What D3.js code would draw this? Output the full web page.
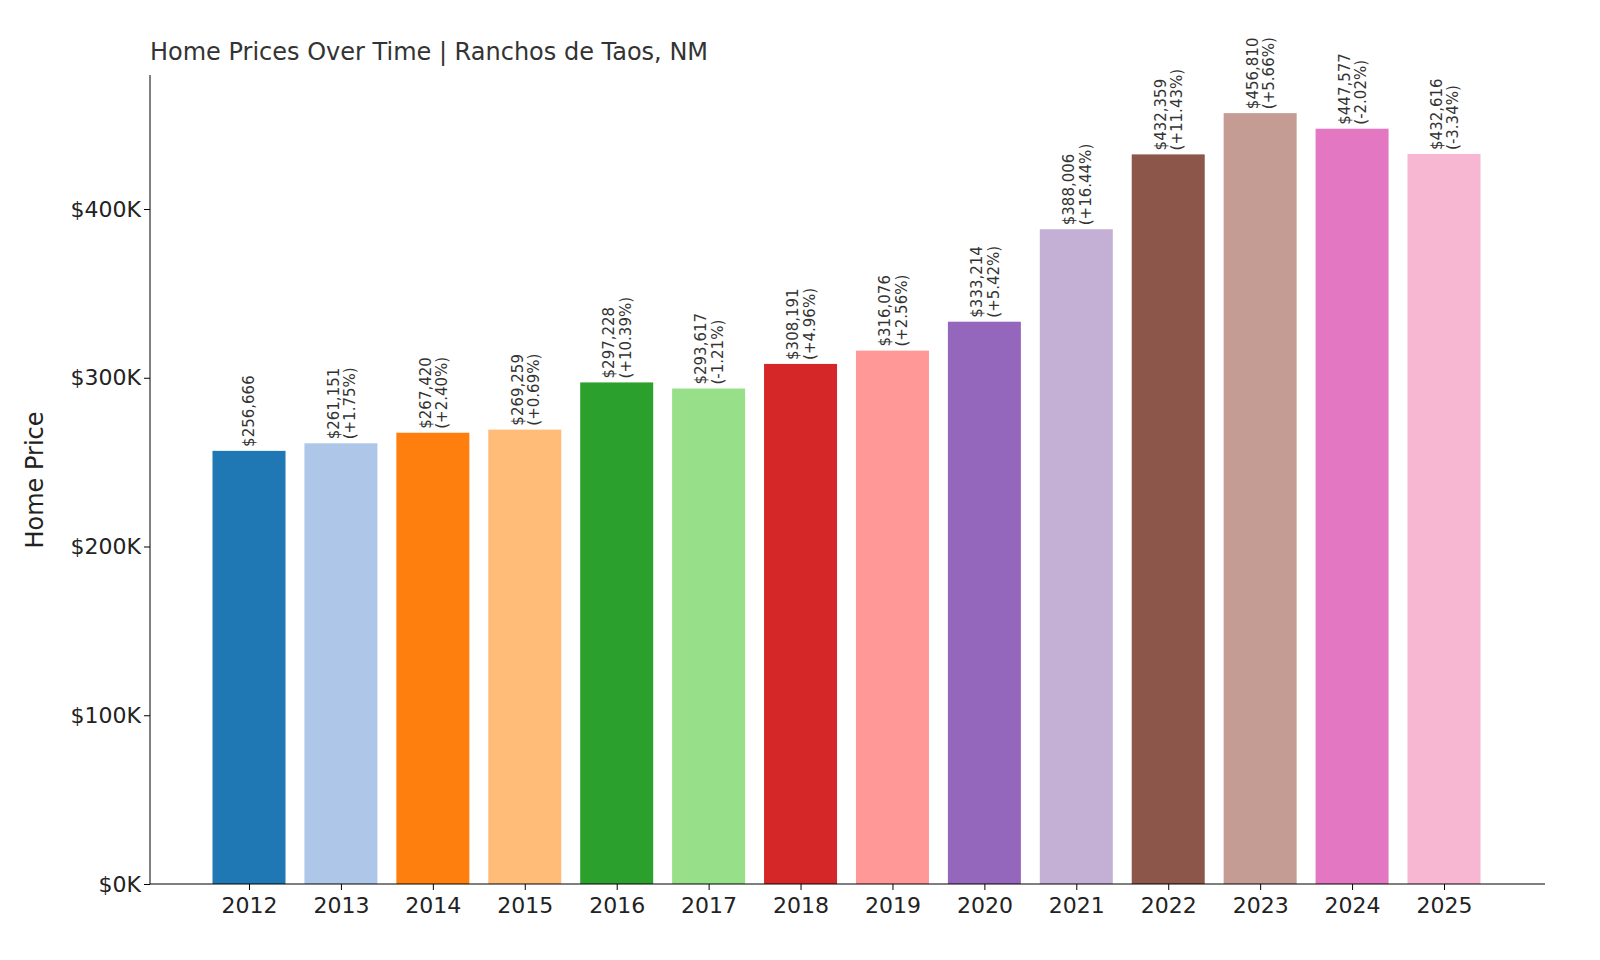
<!DOCTYPE html>
<html><head><meta charset="utf-8">
<script src="https://cdn.jsdelivr.net/npm/d3@7"></script>
<style>body{margin:0;background:#fff}svg{font-family:"DejaVu Sans",sans-serif}</style>
</head><body><svg id="c" width="1600" height="960"></svg>
<script>
const years=["2012","2013","2014","2015","2016","2017","2018","2019","2020","2021","2022","2023","2024","2025"];
const prices=[256666,261151,267420,269259,297228,293617,308191,316076,333214,388006,432359,456810,447577,432616];
const changes=[null,"+1.75%","+2.40%","+0.69%","+10.39%","-1.21%","+4.96%","+2.56%","+5.42%","+16.44%","+11.43%","+5.66%","-2.02%","-3.34%"];
const colors=["#1f77b4","#aec7e8","#ff7f0e","#ffbb78","#2ca02c","#98df8a","#d62728","#ff9896","#9467bd","#c5b0d5","#8c564b","#c49c94","#e377c2","#f7b6d2"];
const yTicks=[0,100000,200000,300000,400000];
const svg=d3.select("#c");
const x=d3.scalePoint().domain(years).range([249,1444]);
const y=d3.scaleLinear().domain([0,400000]).range([884,209]);
const bw=73;
svg.selectAll("rect.b").data(years).join("rect").attr("x",d=>x(d)-bw/2).attr("width",bw)
 .attr("y",(d,i)=>y(prices[i])).attr("height",(d,i)=>884-y(prices[i])).attr("fill",(d,i)=>colors[i]);
const ya=svg.append("g").attr("transform","translate(150,0)").call(d3.axisLeft(y).tickValues(yTicks).tickFormat(d=>"$"+d/1000+"K").tickSize(6));
ya.select(".domain").attr("d","M0,75V884");
ya.selectAll("text").attr("font-size",22).attr("fill","#222").attr("font-family","DejaVu Sans");
const xa=svg.append("g").attr("transform","translate(0,884)").call(d3.axisBottom(x).tickSize(6));
xa.select(".domain").attr("d","M150,0H1545");
xa.selectAll("text").attr("font-size",22).attr("fill","#222").attr("font-family","DejaVu Sans").attr("dy","0.9em");
const fmt=d3.format(",");
years.forEach((yr,i)=>{
 const t=svg.append("text").attr("transform",`translate(${x(yr)},${y(prices[i])-4}) rotate(-90)`)
  .attr("font-size",15).attr("fill","#333");
 if(changes[i]){
  t.append("tspan").attr("x",0).attr("dy","-0.15em").text("$"+fmt(prices[i]));
  t.append("tspan").attr("x",0).attr("dy","1.1em").text("("+changes[i]+")");
 } else t.append("tspan").attr("x",0).attr("dy","0.35em").text("$"+fmt(prices[i]));
});
svg.append("text").attr("x",150).attr("y",60).attr("font-size",24).attr("fill","#333").text("Home Prices Over Time | Ranchos de Taos, NM");
svg.append("text").attr("transform","translate(43,480) rotate(-90)").attr("text-anchor","middle").attr("font-size",24).attr("fill","#222").text("Home Price");
</script></body></html>
